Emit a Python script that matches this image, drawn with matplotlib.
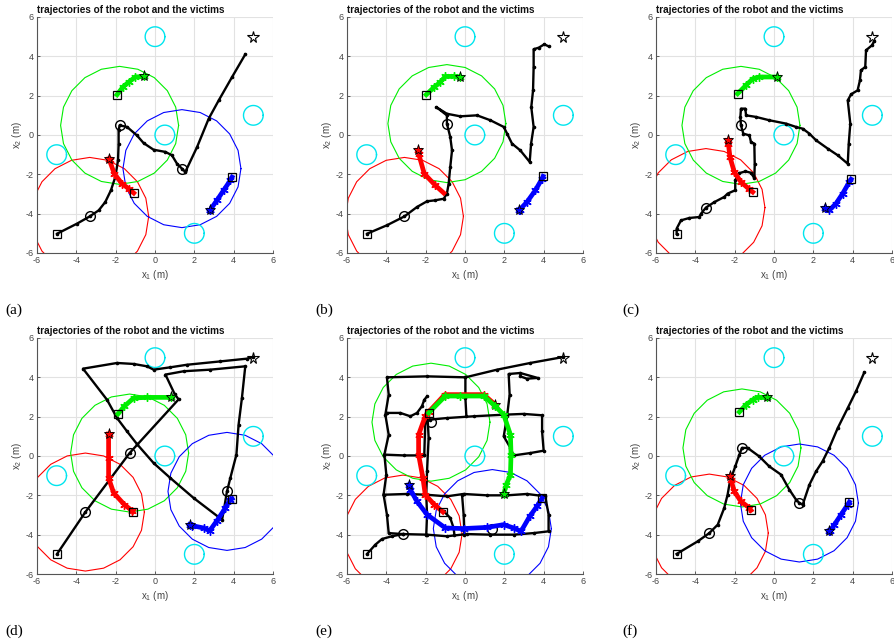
import numpy as np
import matplotlib.pyplot as plt

plt.rcParams['font.family'] = ['Liberation Sans', 'DejaVu Sans']
plt.rcParams['mathtext.fontset'] = 'custom'
plt.rcParams['mathtext.rm'] = 'Liberation Sans'
plt.rcParams['mathtext.it'] = 'Liberation Sans'
plt.rcParams['axes.unicode_minus'] = False

# obstacles (cyan) and robot target
obst_x = [0, 5, 0.5, -5, 2]
obst_y = [5, 1, 0, -1, -5]
goal = (5, 5)
sense_r = 3.0
obst_r = 0.5

# ---------- panel (a)
robot_a = [[(-4.98, -5.02), (-3.97, -4.51), (-3.32, -4.14), (-2.86, -3.83), (-2.53, -3.41), (-2.24, -2.81),
            (-2.02, -2.14), (-1.88, -1.29), (-1.85, -0.44), (-1.85, 0.24), (-1.80, 0.49), (-1.42, 0.41),
            (-0.92, -0.02), (-0.58, -0.41), (-0.07, -0.75), (0.53, -0.86), (0.86, -1.03), (1.12, -1.46),
            (1.37, -1.71), (1.54, -1.88), (2.14, -0.61), (2.73, 0.83), (3.24, 1.76), (3.92, 2.95), (4.59, 4.10)]]
detect_a = [('red', -3.32, -4.14), ('#00ee00', -1.80, 0.49), ('blue', 1.37, -1.71)]
green_a = [(-1.93, 2.05), (-1.63, 2.44), (-1.34, 2.69), (-1.0, 2.95), (-0.54, 2.98)]
red_a = [(-1.08, -2.95), (-1.34, -2.73), (-1.68, -2.47), (-2.07, -1.97), (-2.31, -1.29), (-2.34, -1.2)]
blue_a = [(3.92, -2.14), (3.83, -2.31), (3.49, -2.81), (3.15, -3.32), (2.81, -3.80), (2.78, -3.83)]

# ---------- panel (b)
robot_b = [[(-4.98, -5.02), (-3.97, -4.59), (-3.08, -4.14), (-2.44, -3.66), (-1.93, -3.37), (-1.51, -3.32),
            (-1.08, -3.24), (-0.92, -2.98), (-0.83, -2.47), (-0.75, -1.63), (-0.66, -0.78), (-0.75, -0.10),
            (-0.92, 0.58), (-0.92, 1.0), (-1.46, 1.42), (-0.92, 1.08), (-0.24, 0.95), (0.61, 1.0), (1.29, 0.75),
            (1.97, 0.41), (2.14, 0.07), (2.39, -0.44), (2.81, -0.78), (3.29, -1.37), (3.36, -0.44), (3.49, 0.41),
            (3.37, 1.42), (3.46, 2.27), (3.49, 3.46), (3.49, 4.36), (3.75, 4.44), (4.03, 4.61), (4.25, 4.51)]]
detect_b = [('red', -3.08, -4.14), ('#00ee00', -0.92, 0.58)]
green_b = [(-1.97, 2.05), (-1.56, 2.44), (-1.25, 2.69), (-1.0, 2.98), (-0.58, 2.98), (-0.27, 2.95)]
red_b = [(-1.08, -2.95), (-1.51, -2.56), (-2.07, -1.97), (-2.36, -0.95), (-2.39, -0.78)]
blue_b = [(3.97, -2.10), (3.92, -2.22), (3.58, -2.81), (3.15, -3.41), (2.78, -3.80), (2.73, -3.80)]

# ---------- panel (c)
robot_c = [[(-4.95, -5.02), (-4.95, -4.76), (-4.73, -4.34), (-4.31, -4.22), (-3.80, -4.17), (-3.71, -4.0),
            (-3.46, -3.69), (-3.03, -3.41), (-2.53, -3.15), (-2.36, -2.98), (-1.97, -2.81), (-1.97, -2.31),
            (-1.80, -1.95), (-1.45, -1.85), (-1.17, -1.92), (-1.0, -2.2), (-0.98, -1.5), (-1.0, -0.44),
            (-1.17, -0.36), (-1.25, -0.02), (-1.56, 0.07), (-1.68, 0.49), (-1.71, 0.92), (-1.68, 1.34),
            (-1.46, 1.34), (-1.42, 1.0), (-0.92, 0.92), (-0.24, 0.75), (0.61, 0.58), (1.12, 0.41), (1.46, 0.32),
            (1.80, 0.07), (2.14, -0.27), (2.73, -0.69), (3.24, -1.03), (3.75, -1.46), (3.80, -0.44), (3.88, 0.58),
            (3.75, 1.76), (3.92, 2.07), (4.25, 2.27), (4.37, 2.78), (4.42, 3.29), (4.64, 3.46), (4.68, 4.31),
            (4.98, 4.56), (5.1, 4.78)]]
detect_c = [('red', -3.46, -3.69), ('#00ee00', -1.68, 0.49)]
green_c = [(-1.85, 2.10), (-1.42, 2.53), (-1.08, 2.86), (-0.75, 2.95), (0.14, 2.95)]
red_c = [(-1.08, -2.90), (-1.29, -2.73), (-1.68, -2.39), (-2.02, -1.88), (-2.24, -1.12), (-2.32, -0.44), (-2.32, -0.27)]
blue_c = [(3.92, -2.25), (3.83, -2.39), (3.49, -2.98), (3.15, -3.49), (2.81, -3.83), (2.61, -3.69)]

# ---------- panel (d)
robot_d = [[(-4.98, -4.98), (-3.54, -2.85), (-1.29, 0.15), (1.2, 2.88), (1.0, 3.15), (0.53, 4.14), (1.46, 4.31),
            (2.81, 4.39), (4.59, 4.56), (4.42, 2.95), (4.25, 1.59), (4.14, 0.07), (3.83, -1.12), (3.66, -1.80),
            (3.49, -2.81), (3.41, -3.24), (1.97, -2.14), (0.78, -1.12), (-0.07, -0.36), (-0.92, 0.61),
            (-1.42, 1.25), (-1.93, 1.93), (-2.44, 2.86), (-3.66, 4.44), (-1.93, 4.73), (-1.08, 4.68),
            (-0.41, 4.56), (-0.07, 4.39), (0.78, 4.51), (1.63, 4.64), (3.32, 4.81), (4.68, 4.95), (4.98, 5.03)]]
detect_d = [('red', -3.54, -2.85), ('#00ee00', -1.29, 0.15), ('blue', 3.66, -1.80)]
green_d = [(-1.88, 2.14), (-1.56, 2.53), (-1.08, 2.95), (-0.41, 2.98), (0.81, 2.98)]
red_d = [(-1.12, -2.85), (-1.17, -2.78), (-1.56, -2.47), (-2.10, -1.88), (-2.36, -1.12), (-2.36, -0.10), (-2.36, 1.12)]
blue_d = [(3.92, -2.17), (3.83, -2.22), (3.58, -2.64), (3.15, -3.29), (2.78, -3.80), (2.47, -3.66), (1.88, -3.54), (1.76, -3.49)]

# ---------- panel (e)  (coverage sweep, several pieces)
robot_e = [
    [(-4.98, -4.98), (-4.56, -4.51), (-4.22, -4.22), (-3.71, -4.08), (-3.15, -3.97), (-1.93, -4.0), (-0.92, -4.08),
     (0.10, -3.97), (1.29, -4.0), (2.47, -4.0), (3.49, -3.92), (4.25, -3.83), (4.25, -2.98), (4.08, -2.05),
     (3.15, -1.93), (2.14, -2.0), (1.12, -2.0), (-0.07, -1.93), (-0.92, -2.05), (-1.97, -1.97), (-2.95, -1.93),
     (-4.14, -1.97)],
    [(-3.15, -3.97), (-3.88, -3.92), (-3.97, -2.98), (-4.14, -1.97), (-4.0, -0.95), (-4.1, 0.07), (-3.88, 1.08),
     (-4.05, 2.10), (-3.88, 3.12), (-3.97, 4.0), (-1.93, 4.05), (0.02, 4.0), (0.02, 2.95), (0.07, 2.02)],
    [(-3.97, 2.19), (-3.29, 2.19), (-2.78, 2.02), (-2.44, 2.19), (-2.19, 2.53), (-2.07, 2.86), (-1.93, 3.03)],
    [(-1.76, 1.85), (-0.92, 1.93), (0.44, 2.02), (1.97, 2.10), (2.98, 2.14), (3.92, 2.07), (3.92, 1.25),
     (4.0, 0.27), (3.32, 0.15), (2.47, 0.03), (2.31, 0.41), (1.97, 1.0), (2.14, 2.02), (2.27, 3.12), (2.22, 4.17),
     (2.81, 4.22), (3.69, 3.97), (3.15, 3.93), (2.81, 4.05)],
    [(-4.1, 0.07), (-3.12, 0.03), (-2.10, 0.03)],
    [(-2.02, 1.76), (-2.07, 0.07)],
    [(-1.9, 1.93), (-1.85, 0.92), (-1.93, -0.78), (-1.97, -1.97), (-1.93, -2.98), (-1.97, -4.0)],
    [(-0.15, -1.97), (-0.07, -2.98), (-0.03, -4.0)],
    [(-1.08, -2.81), (-0.75, -3.15), (-0.58, -3.66), (-0.54, -4.0)],
    [(0.02, 4.0), (1.63, 4.39), (3.32, 4.73), (4.98, 5.03)],
]
detect_e = [('red', -3.15, -3.97), ('#00ee00', -1.73, 1.72), ('blue', 1.39, -3.69)]
red_e = [(-1.12, -2.85), (-1.56, -2.47), (-2.02, -1.97), (-2.14, -1.12), (-2.36, 0.07), (-2.36, 1.08), (-2.02, 2.02),
         (-1.85, 2.24), (-1.03, 3.12), (0.95, 3.12), (1.54, 2.61)]
green_e = [(-1.85, 2.19), (-1.0, 3.05), (-0.24, 3.05), (0.95, 3.05), (1.54, 2.53), (1.97, 2.10), (2.31, 1.08),
           (2.34, 0.07), (2.31, -0.95), (2.10, -1.46), (1.97, -1.93)]
blue_e = [(3.92, -2.14), (3.66, -2.56), (3.29, -3.07), (2.85, -3.83), (2.47, -3.66), (1.97, -3.49), (1.12, -3.63),
          (-0.07, -3.69), (-1.0, -3.66), (-1.93, -2.98), (-2.44, -2.31), (-2.78, -1.71), (-2.86, -1.46)]

# ---------- panel (f)
robot_f = [[(-4.95, -4.98), (-3.88, -4.34), (-3.29, -3.92), (-2.86, -3.49), (-2.53, -2.64), (-2.36, -1.97),
            (-2.24, -1.29), (-1.97, -0.53), (-1.76, 0.07), (-1.63, 0.41), (-1.34, 0.41), (-0.75, -0.02),
            (-0.24, -0.53), (0.36, -0.95), (0.78, -1.71), (1.12, -2.22), (1.29, -2.39), (1.46, -2.47), (1.80, -1.46),
            (2.14, -0.78), (2.47, -0.27), (2.81, 0.41), (3.24, 1.42), (3.75, 2.44), (4.17, 3.29), (4.59, 4.25)]]
detect_f = [('red', -3.29, -3.92), ('#00ee00', -1.63, 0.41), ('blue', 1.29, -2.39)]
green_f = [(-1.76, 2.24), (-1.42, 2.61), (-1.08, 2.86), (-0.83, 2.98), (-0.37, 2.98)]
red_f = [(-1.17, -2.76), (-1.25, -2.64), (-1.68, -2.31), (-2.02, -1.80), (-2.19, -1.20), (-2.24, -1.03)]
blue_f = [(3.83, -2.34), (3.75, -2.47), (3.41, -2.98), (3.07, -3.49), (2.85, -3.80), (2.81, -3.80)]

panels = [
    ('(a)', robot_a, detect_a, [('red', red_a), ('#00ee00', green_a), ('blue', blue_a)]),
    ('(b)', robot_b, detect_b, [('red', red_b), ('#00ee00', green_b), ('blue', blue_b)]),
    ('(c)', robot_c, detect_c, [('red', red_c), ('#00ee00', green_c), ('blue', blue_c)]),
    ('(d)', robot_d, detect_d, [('red', red_d), ('#00ee00', green_d), ('blue', blue_d)]),
    ('(e)', robot_e, detect_e, [('red', red_e), ('#00ee00', green_e), ('blue', blue_e)]),
    ('(f)', robot_f, detect_f, [('red', red_f), ('#00ee00', green_f), ('blue', blue_f)]),
]
no_square = {('(b)', 'red')}

W, H = 895, 644
ax_left = [37, 347, 656]
ax_top = [17, 338]
ax_size = 236
label_pos = [(5, 310), (315, 310), (622, 310), (5, 631), (315, 631), (622, 631)]

fig = plt.figure(figsize=(W / 100, H / 100), dpi=100)
poly = np.linspace(0, 2 * np.pi, 21)
smooth = np.linspace(0, 2 * np.pi, 80)

for i, (lab, robot, detect, victims) in enumerate(panels):
    r, c = divmod(i, 3)
    ax = fig.add_axes([ax_left[c] / W, 1 - (ax_top[r] + ax_size) / H, ax_size / W, ax_size / H])
    ax.set_xlim(-6, 6)
    ax.set_ylim(-6, 6)
    ax.set_xticks(range(-6, 7, 2))
    ax.set_yticks(range(-6, 7, 2))
    ax.grid(True, color='#e2e2e2', lw=0.8)
    ax.set_axisbelow(True)
    for s in ['top', 'right']:
        ax.spines[s].set_visible(False)
    for s in ['left', 'bottom']:
        ax.spines[s].set_color('#555555')
        ax.spines[s].set_linewidth(0.8)
    ax.tick_params(direction='in', length=2, width=0.6, labelsize=6.5, colors='#444444', pad=2.5)

    # sensing ranges around detection points
    for col, cx, cy in detect:
        ax.plot(cx + sense_r * np.cos(poly), cy + sense_r * np.sin(poly), color=col, lw=0.8)
    # obstacles
    for ox, oy in zip(obst_x, obst_y):
        ax.plot(ox + obst_r * np.cos(smooth), oy + obst_r * np.sin(smooth), color='#00e5ee', lw=1.0)

    # robot trajectory
    for seg in robot:
        xs, ys = zip(*seg)
        ax.plot(xs, ys, '-', color='k', lw=1.7, marker='.', ms=3.2)
    ax.plot(robot[0][0][0], robot[0][0][1], 's', mfc='none', mec='k', ms=5.5, mew=0.9)
    for col, cx, cy in detect:
        ax.plot(cx, cy, 'o', mfc='none', mec='k', ms=7, mew=1.0)
    ax.plot(goal[0], goal[1], '*', mfc='none', mec='k', ms=8.5, mew=0.8)

    # victims
    for col, path in victims:
        xs, ys = zip(*path)
        ax.plot(xs, ys, '-', color=col, lw=3.4, marker=(6, 2, 0), ms=6, mew=1.0,
                markevery=list(range(1, len(xs))))
        if (lab, col) not in no_square:
            ax.plot(xs[0], ys[0], 's', mfc='none', mec='k', ms=5.5, mew=0.9)
        ax.plot(xs[-1], ys[-1], '*', mfc=col, mec='k', ms=8, mew=0.6)

    ax.set_title('trajectories of the robot and the victims', loc='left', fontsize=7.2,
                 fontweight='bold', pad=3, color='#111111')
    ax.set_xlabel('x$_1$ (m)', fontsize=7, color='#444444', labelpad=1.5)
    ax.set_ylabel('x$_2$ (m)', fontsize=7, color='#444444', labelpad=1)

    lx, ly = label_pos[i]
    fig.text(lx / W, 1 - ly / H, lab, fontsize=11, family=['Liberation Serif', 'DejaVu Serif'],
             va='center', ha='left')

fig.savefig('out.png', dpi=100)
